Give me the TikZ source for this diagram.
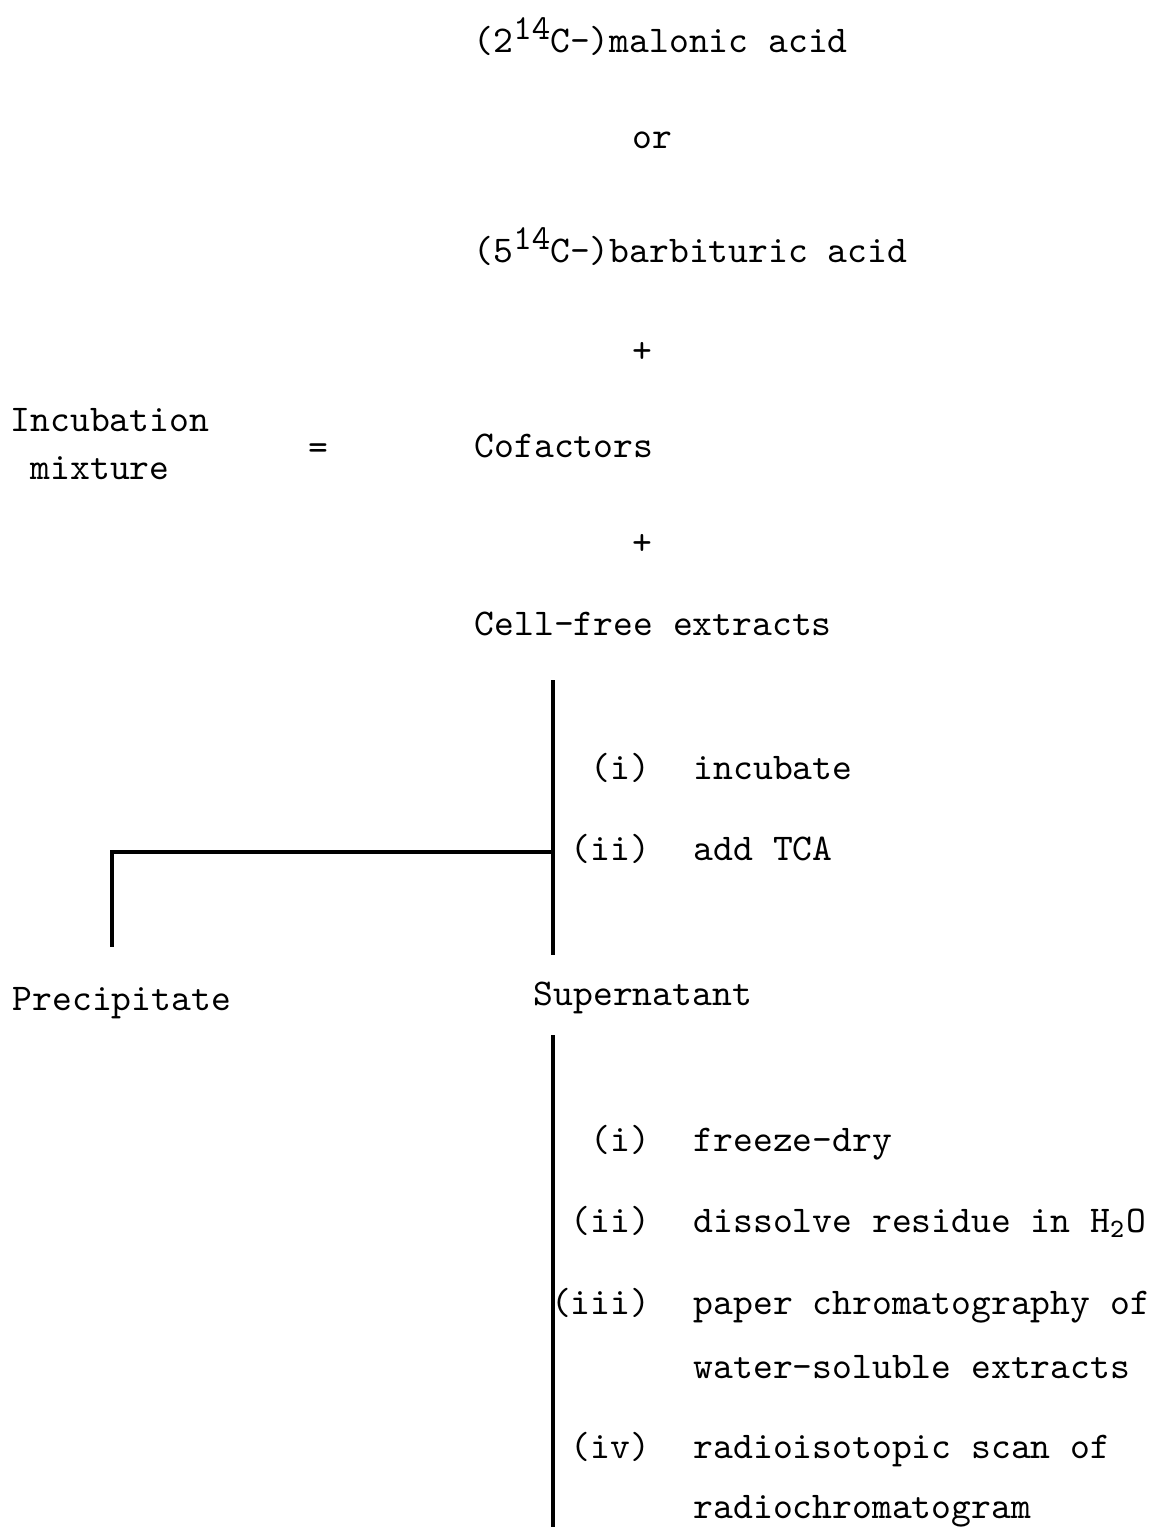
\documentclass[tikz,border=0pt]{standalone}
\usepackage{fontspec}
\usepackage{tikz}

\newcommand{\isosup}[1]{\raisebox{0.75ex}{\fontsize{10}{12}\selectfont #1}}

\tikzset{
  txt/.style={font=\fontsize{10.75}{12}\selectfont\ttfamily, inner sep=0pt, anchor=base west},
  stepno/.style={txt, anchor=base east},
  sign/.style={txt, anchor=center},
  flow/.style={line width=1pt}
}

\begin{document}
\begin{tikzpicture}[x=0.1mm,y=-0.1mm]
      \useasboundingbox (0,0) rectangle (1153,1527);

      % incubation mixture
      \node[txt] (mal) at (473,52) {(2\isosup{14}C-)malonic acid};
      \node[sign] (or) at (652,140) {or};
      \node[txt] (bar) at (473,262) {(5\isosup{14}C-)barbituric acid};
      \node[sign] (plus1) at (642,352) {+};
      \node[txt] (inc) at (10,431) {Incubation};
      \node[txt] (mix) at (30,479) {mixture};
      \node[sign] (eq) at (318,452) {=};
      \node[txt] (cof) at (474,457) {Cofactors};
      \node[sign] (plus2) at (642,544) {+};
      \node[txt] (cell) at (474,635) {Cell-free extracts};

      % first step
      \node[stepno] (s1) at (651,779) {(i)};
      \node[txt] (t1) at (693,779) {incubate};
      \node[stepno] (s2) at (651,860) {(ii)};
      \node[txt] (t2) at (693,860) {add TCA};

      \node[txt] (prec) at (12,1010) {Precipitate};
      \node[txt] (sup) at (533,1005) {Supernatant};

      % second step
      \node[stepno] (u1) at (651,1151) {(i)};
      \node[txt] (v1) at (693,1151) {freeze-dry};
      \node[stepno] (u2) at (651,1232) {(ii)};
      \node[txt] (v2) at (693,1232) {dissolve residue in H\textsubscript{2}O};
      \node[stepno] (u3) at (651,1314) {(iii)};
      \node[txt] (v3) at (693,1314) {paper chromatography of};
      \node[txt] (v3b) at (693,1378) {water-soluble extracts};
      \node[stepno] (u4) at (651,1458) {(iv)};
      \node[txt] (v4) at (693,1458) {radioisotopic scan of};
      \node[txt] (v4b) at (693,1518) {radiochromatogram};

      \coordinate (top1) at (553,680);
      \coordinate (split) at (553,852);
      \coordinate (bot1) at (553,955);
      \coordinate (prectop) at (112,947);
      \coordinate (top2) at (553,1035);
      \coordinate (bot2) at (553,1527);

      \draw[flow] (top1) -- (bot1);
      \draw[flow] (split) -| (prectop);
      \draw[flow] (top2) -- (bot2);
    \end{tikzpicture}
\end{document}
